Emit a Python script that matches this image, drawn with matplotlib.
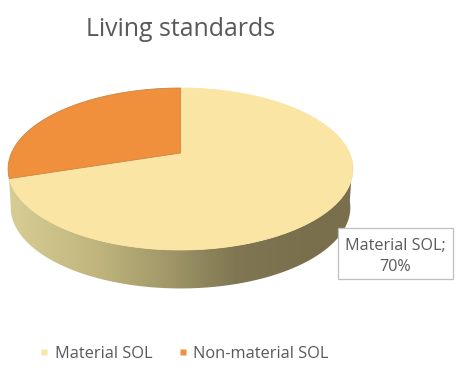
import numpy as np
import matplotlib
matplotlib.use("Agg")
import matplotlib.pyplot as plt
from matplotlib.patches import Polygon, Rectangle
from matplotlib.lines import Line2D

title = "Living standards"
categories = ["Material SOL", "Non-material SOL"]
values = [70, 30]
colors = ["#FBE5A4", "#F08F3C"]
edge_colors = ["#FBE5A4", "#C98642"]
label_text = "Material SOL;\n70%"
text_color = "#595959"

plt.rcParams["font.family"] = ["Open Sans", "DejaVu Sans"]
fig = plt.figure(figsize=(4.64, 3.73), dpi=100, facecolor="white")
ax = fig.add_axes([0, 0, 1, 1])
ax.set_xlim(0, 464)
ax.set_ylim(373, 0)
ax.axis("off")

CX, CY, B, A, K = 180.5, 153.0, 169.0, 77.8, 0.1975
DEPTH = 38.5


def project(theta, r=1.0, scale=1.0, dy=0.0):
    u = r * np.sin(theta)
    v = r * np.cos(theta)
    w = 1 + K * v
    return CX + scale * B * u / w, CY - A * v / w + dy


# side wall with a horizontal shading gradient
side_t = np.linspace(np.deg2rad(97), np.deg2rad(260), 200)
sx0, sy0 = project(side_t)
sx1, sy1 = project(side_t[::-1], scale=0.985, dy=DEPTH)
side = Polygon(np.c_[np.r_[sx0, sx1], np.r_[sy0, sy1]], closed=True,
               transform=ax.transData, fc="none", ec="none")
ax.add_patch(side)
stops_x = np.array([0, 20, 100, 170, 235, 300, 464]) / 464
stops_c = np.array([(216, 206, 150), (212, 202, 146), (190, 180, 124), (160, 150, 104),
                    (128, 118, 82), (122, 112, 78), (120, 110, 76)]) / 255
grid = np.linspace(0, 1, 464)
grad = np.stack([np.interp(grid, stops_x, stops_c[:, i]) for i in range(3)], axis=-1)[None, :, :]
img = ax.imshow(grad, extent=(0, 464, 373, 0), aspect="auto", zorder=1, interpolation="bilinear")
img.set_clip_path(side)
ax.set_xlim(0, 464)
ax.set_ylim(373, 0)

# top face, wedges clockwise from 12 o'clock
start = 0.0
total = sum(values)
for val, col, ec in zip(values, colors, edge_colors):
    end = start + 2 * np.pi * val / total
    th = np.linspace(start, end, 200)
    x, y = project(th)
    ax.add_patch(Polygon(np.c_[np.r_[CX, x], np.r_[CY, y]], closed=True, fc=col, ec=ec,
                         lw=0.6, zorder=2 if col == colors[0] else 3))
    start = end

ax.text(180.5, 30, title, ha="center", va="center", fontsize=17.9, color=text_color)

ax.add_patch(Rectangle((338, 228), 115, 51, fc="white", ec="#BFBFBF", lw=0.9, zorder=5))
ax.text(395.5, 256.5, label_text, ha="center", va="center", fontsize=11.6, color=text_color,
        linespacing=1.4, zorder=6)

handles = [Line2D([], [], ls="none", marker="s", ms=4.5, mfc=c, mec="none") for c in colors]
ax.legend(handles, categories, loc="center", bbox_to_anchor=(182.5, 354),
          bbox_transform=ax.transData, ncol=2, frameon=False, fontsize=11.8,
          labelcolor=text_color, handletextpad=0.15, columnspacing=1.33, handlelength=1.0,
          borderpad=0)

fig.savefig("out.png", dpi=100, facecolor="white")
